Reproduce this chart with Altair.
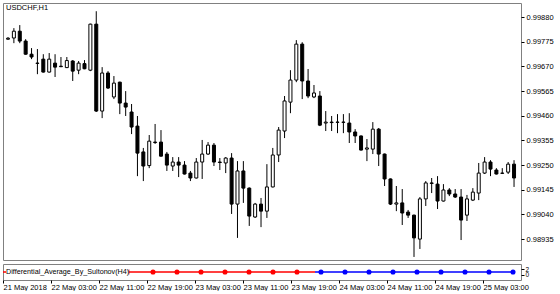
import altair as alt
import pandas as pd

FONT = "Liberation Sans"

symbol_label = "USDCHF,H1"
indicator_label = "Differential_Average_By_Sultonov(H4)"

# H1 candles, index 0 = 21 May 2018 19:00
bar_index = list(range(87))
open_ = [0.99786, 0.99791, 0.99820, 0.99778, 0.99722, 0.99684, 0.99701, 0.99646, 0.99684, 0.99671,
         0.99665, 0.99693, 0.99654, 0.99682, 0.99654, 0.99850, 0.99480, 0.99642, 0.99540, 0.99603,
         0.99514, 0.99476, 0.99416, 0.99306, 0.99248, 0.99348, 0.99348, 0.99297, 0.99246, 0.99263,
         0.99250, 0.99216, 0.99195, 0.99263, 0.99297, 0.99335, 0.99263, 0.99259, 0.99280, 0.99084,
         0.99225, 0.99152, 0.99029, 0.99084, 0.99054, 0.99157, 0.99293, 0.99395, 0.99518, 0.99612,
         0.99765, 0.99608, 0.99540, 0.99544, 0.99429, 0.99433, 0.99432, 0.99433, 0.99429, 0.99391,
         0.99374, 0.99318, 0.99318, 0.99403, 0.99297, 0.99191, 0.99084, 0.99089, 0.99050, 0.99037,
         0.98935, 0.99106, 0.99174, 0.99169, 0.99097, 0.99144, 0.99127, 0.99114, 0.99037, 0.99101,
         0.99131, 0.99216, 0.99263, 0.99229, 0.99216, 0.99220, 0.99254]
high = [0.99795, 0.99833, 0.99846, 0.99786, 0.99748, 0.99744, 0.99722, 0.99727, 0.99722, 0.99710,
        0.99710, 0.99697, 0.99693, 0.99697, 0.99852, 0.99905, 0.99667, 0.99650, 0.99629, 0.99605,
        0.99565, 0.99510, 0.99459, 0.99323, 0.99378, 0.99425, 0.99399, 0.99306, 0.99284, 0.99284,
        0.99267, 0.99225, 0.99280, 0.99357, 0.99348, 0.99344, 0.99280, 0.99284, 0.99301, 0.99267,
        0.99267, 0.99155, 0.99089, 0.99110, 0.99254, 0.99323, 0.99412, 0.99544, 0.99654, 0.99782,
        0.99773, 0.99659, 0.99591, 0.99565, 0.99480, 0.99459, 0.99467, 0.99467, 0.99471, 0.99403,
        0.99376, 0.99361, 0.99433, 0.99408, 0.99299, 0.99193, 0.99161, 0.99148, 0.99059, 0.99039,
        0.99114, 0.99182, 0.99195, 0.99203, 0.99169, 0.99152, 0.99148, 0.99148, 0.99123, 0.99152,
        0.99259, 0.99284, 0.99271, 0.99237, 0.99237, 0.99263, 0.99271]
low = [0.99783, 0.99769, 0.99769, 0.99720, 0.99701, 0.99637, 0.99644, 0.99644, 0.99625, 0.99667,
       0.99663, 0.99608, 0.99637, 0.99658, 0.99650, 0.99476, 0.99450, 0.99574, 0.99531, 0.99467,
       0.99459, 0.99382, 0.99203, 0.99182, 0.99237, 0.99340, 0.99286, 0.99225, 0.99225, 0.99199,
       0.99210, 0.99182, 0.99193, 0.99191, 0.99293, 0.99246, 0.99229, 0.99216, 0.99042, 0.98940,
       0.99089, 0.98991, 0.99025, 0.98986, 0.99025, 0.99155, 0.99263, 0.99365, 0.99471, 0.99603,
       0.99531, 0.99535, 0.99535, 0.99416, 0.99395, 0.99395, 0.99386, 0.99386, 0.99344, 0.99344,
       0.99312, 0.99267, 0.99297, 0.99246, 0.99161, 0.99080, 0.99054, 0.98995, 0.99025, 0.98859,
       0.98893, 0.99076, 0.99131, 0.99063, 0.99095, 0.99118, 0.99110, 0.98931, 0.99012, 0.99097,
       0.99101, 0.99212, 0.99203, 0.99210, 0.99212, 0.99212, 0.99157]
close = [0.99790, 0.99820, 0.99778, 0.99722, 0.99710, 0.99683, 0.99646, 0.99701, 0.99667, 0.99669,
         0.99695, 0.99650, 0.99684, 0.99660, 0.99850, 0.99480, 0.99642, 0.99578, 0.99599, 0.99514,
         0.99497, 0.99412, 0.99301, 0.99246, 0.99352, 0.99346, 0.99288, 0.99250, 0.99263, 0.99250,
         0.99212, 0.99195, 0.99263, 0.99297, 0.99335, 0.99263, 0.99261, 0.99280, 0.99084, 0.99225,
         0.99152, 0.99033, 0.99084, 0.99054, 0.99157, 0.99293, 0.99399, 0.99523, 0.99612, 0.99765,
         0.99608, 0.99544, 0.99557, 0.99420, 0.99433, 0.99431, 0.99433, 0.99432, 0.99391, 0.99374,
         0.99314, 0.99323, 0.99403, 0.99297, 0.99191, 0.99084, 0.99089, 0.99046, 0.99037, 0.98940,
         0.99106, 0.99174, 0.99172, 0.99097, 0.99144, 0.99127, 0.99114, 0.99016, 0.99106, 0.99135,
         0.99216, 0.99263, 0.99233, 0.99212, 0.99215, 0.99254, 0.99195]

price_ticks = [0.99880, 0.99775, 0.99670, 0.99565, 0.99460, 0.99355, 0.99250, 0.99145, 0.99040, 0.98935]
time_tick_bars = [0, 8, 16, 24, 32, 40, 48, 56, 64, 72, 80]
time_tick_labels = ["21 May 2018", "22 May 03:00", "22 May 11:00", "22 May 19:00", "23 May 03:00",
                    "23 May 11:00", "23 May 19:00", "24 May 03:00", "24 May 11:00", "24 May 19:00",
                    "25 May 03:00"]

# indicator (H4) points
h4_bar = [25, 29, 33, 37, 41, 45, 49, 53, 57, 61, 65, 69, 73, 77, 81, 85]
h4_state = ["down", "down", "down", "down", "down", "down", "down",
            "up", "up", "up", "up", "up", "up", "up", "up", "up"]
h4_value = [1, 1, 1, 1, 1, 1, 1, 1, 1, 1, 1, 1, 1, 1, 1, 1]
ind_start_bar = 21
ind_switch_bar = 52
ind_left_stub = [0, 0.5]

df = pd.DataFrame({"i": bar_index, "open": open_, "high": high, "low": low, "close": close})

XDOM = [0, 518 / 6]
xs = alt.Scale(domain=XDOM, nice=False, zero=False)
ys = alt.Scale(domain=[0.98846, 0.99940], nice=False, zero=False)

price_axis = alt.Axis(orient="right", values=price_ticks, format=".5f", tickSize=3,
                      tickColor="black", domain=False, grid=False, labelPadding=2,
                      labelFontSize=7.5, labelFont=FONT, labelColor="black",
                      labelOverlap=False, labelFlush=False, title=None)

base = alt.Chart(df)
wick = base.mark_rule(color="black", strokeWidth=1, clip=True).encode(
    x=alt.X("i:Q", scale=xs, axis=None),
    y=alt.Y("low:Q", scale=ys, title=None, axis=price_axis),
    y2="high:Q",
)
body = base.mark_bar(size=3, stroke="black", strokeWidth=1, clip=True).encode(
    x=alt.X("i:Q", scale=xs, axis=None),
    y=alt.Y("open:Q", scale=ys, title=None, axis=price_axis),
    y2="close:Q",
    fill=alt.condition("datum.close >= datum.open", alt.value("white"), alt.value("black")),
)
sym = alt.Chart(pd.DataFrame({"t": [symbol_label]})).mark_text(
    align="left", baseline="middle", fontSize=7.5, font=FONT, color="black"
).encode(x=alt.value(3), y=alt.value(4.5), text="t:N")

main = alt.layer(wick, body, sym).properties(width=518, height=257)

# indicator panel
iys = alt.Scale(domain=[-1.667, 3.667], nice=False, zero=False)
red_x = [ind_start_bar] + [b for b, s in zip(h4_bar, h4_state) if s == "down"] + [ind_switch_bar]
blue_x = [ind_switch_bar] + [b for b, s in zip(h4_bar, h4_state) if s == "up"]
red_v = [h4_value[0]] * len(red_x)
blue_v = [h4_value[-1]] * len(blue_x)
line_df = pd.DataFrame({
    "i": red_x + blue_x + ind_left_stub,
    "v": red_v + blue_v + [1, 1],
    "seg": ["a"] * len(red_x) + ["b"] * len(blue_x) + ["c", "c"],
    "state": ["down"] * len(red_x) + ["up"] * len(blue_x) + ["down", "down"],
})
dots_df = pd.DataFrame({"i": h4_bar, "v": h4_value, "state": h4_state})
cscale = alt.Scale(domain=["down", "up"], range=["#ff0000", "#0000ff"])

time_expr = "[" + ",".join("'" + t + "'" for t in time_tick_labels) + "][round(datum.value/8)]"

time_axis = alt.Axis(orient="bottom", values=time_tick_bars, labelExpr=time_expr,
                     tickSize=3, tickColor="black", domain=False, grid=False,
                     labelAlign="left", labelBaseline="top", labelPadding=0,
                     labelFontSize=7.5, labelFont=FONT, labelColor="black",
                     labelOverlap=False, labelFlush=False, labelBound=False, title=None)
ind_axis = alt.Axis(orient="right", values=[0, 2], format="d", tickSize=3,
                    tickColor="black", domain=False, grid=False, labelPadding=1,
                    labelFontSize=6.5, labelFont=FONT, labelColor="black",
                    labelOverlap=False, labelFlush=False, title=None)

ind_line = alt.Chart(line_df).mark_line(strokeWidth=1.5, clip=True).encode(
    x=alt.X("i:Q", scale=xs, axis=time_axis),
    y=alt.Y("v:Q", scale=iys, axis=ind_axis),
    color=alt.Color("state:N", scale=cscale, legend=None),
    detail="seg:N",
)
ind_dots = alt.Chart(dots_df).mark_circle(size=26, opacity=1).encode(
    x=alt.X("i:Q", scale=xs, axis=time_axis),
    y=alt.Y("v:Q", scale=iys, axis=ind_axis),
    color=alt.Color("state:N", scale=cscale, legend=None),
)
start_tick = alt.Chart(pd.DataFrame({"i": [ind_start_bar], "v": [1]})).mark_tick(
    orient="vertical", size=5, thickness=1, color="#ff0000"
).encode(x=alt.X("i:Q", scale=xs, axis=time_axis), y=alt.Y("v:Q", scale=iys, axis=ind_axis))
ind_text = alt.Chart(pd.DataFrame({"t": [indicator_label]})).mark_text(
    align="left", baseline="middle", fontSize=7.2, font=FONT, color="black"
).encode(x=alt.value(3), y=alt.value(8), text="t:N")

ind = alt.layer(ind_line, ind_dots, start_tick, ind_text).properties(width=518, height=16)

chart = alt.vconcat(main, ind, spacing=2).properties(
    padding={"left": 2, "top": 2, "right": 0, "bottom": 0},
    background="white",
).configure_view(stroke="#808080", strokeWidth=1)

chart.save("out.html", embed_options={"renderer": "svg", "actions": False})
